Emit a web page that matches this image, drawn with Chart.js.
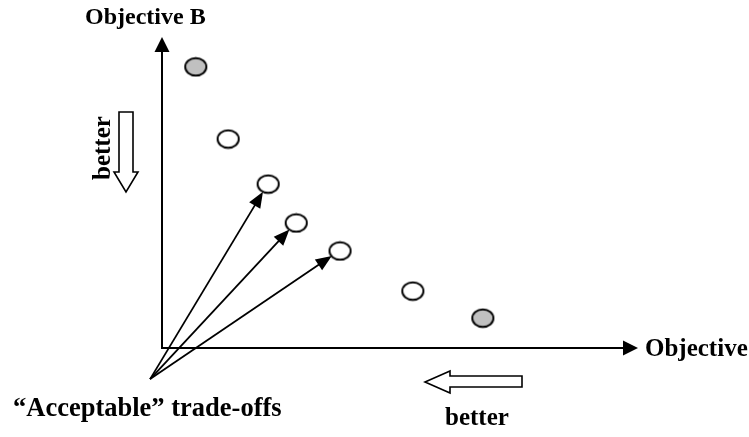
<!DOCTYPE html>
<html>
<head>
<meta charset="utf-8">
<script src="https://cdn.jsdelivr.net/npm/chart.js@4"></script>
<style>
  body { margin: 0; background: #fff; }
  canvas { display: block; }
</style>
</head>
<body>
<canvas id="tradeoff-chart" width="749" height="437"></canvas>
<script>
// solutions, in objective units (origin = axis corner)
let objA = [0.71, 1.39, 2.23, 2.82, 3.74, 5.27, 6.74];
let objB = [9.04, 6.72, 5.27, 4.02, 3.12, 1.83, 0.96];
let extremes = [0, 6];        // drawn grey
let acceptable = [2, 3, 4];   // the ones the arrows point at
let arrowFrom = [-0.25, -1.0];

let xLabel = 'Objective';
let yLabel = 'Objective B';
let noteLabel = '\u201cAcceptable\u201d trade-offs';
let betterLabel = 'better';

function ellipseStyle(fill) {
  let c = document.createElement('canvas');
  c.width = 25; c.height = 21;
  let g = c.getContext('2d');
  g.beginPath();
  g.ellipse(12.5, 10.5, 10.6, 8.8, 0, 0, Math.PI * 2);
  g.fillStyle = fill;
  g.fill();
  g.lineWidth = 1.9;
  g.strokeStyle = '#000';
  g.stroke();
  return c;
}

function pts(idx) {
  return idx.map(i => ({ x: objA[i], y: objB[i] }));
}
let allIdx = objA.map((v, i) => i);
let greyIdx = allIdx.filter(i => extremes.includes(i));
let whiteIdx = allIdx.filter(i => !extremes.includes(i));

function head(ctx, x1, y1, x2, y2, len, half) {
  let a = Math.atan2(y2 - y1, x2 - x1);
  ctx.beginPath();
  ctx.moveTo(x2, y2);
  ctx.lineTo(x2 - len * Math.cos(a) + half * Math.sin(a), y2 - len * Math.sin(a) - half * Math.cos(a));
  ctx.lineTo(x2 - len * Math.cos(a) - half * Math.sin(a), y2 - len * Math.sin(a) + half * Math.cos(a));
  ctx.closePath();
  ctx.fill();
}

const diagram = {
  id: 'diagram',
  beforeDatasetsDraw(chart) {
    let ctx = chart.ctx, xs = chart.scales.x, ys = chart.scales.y;
    let x0 = xs.getPixelForValue(0), y0 = ys.getPixelForValue(0);
    let xEnd = xs.getPixelForValue(10), yEnd = ys.getPixelForValue(10);
    ctx.save();
    ctx.strokeStyle = '#000';
    ctx.fillStyle = '#000';
    ctx.lineWidth = 2;
    ctx.beginPath();
    ctx.moveTo(x0, yEnd + 10);
    ctx.lineTo(x0, y0);
    ctx.lineTo(xEnd - 10, y0);
    ctx.stroke();
    head(ctx, x0, y0, x0, yEnd, 15, 7.5);
    head(ctx, x0, y0, xEnd, y0, 15, 7.5);
    ctx.restore();
  },
  afterDraw(chart) {
    let ctx = chart.ctx, xs = chart.scales.x, ys = chart.scales.y;
    let ox = xs.getPixelForValue(arrowFrom[0]), oy = ys.getPixelForValue(arrowFrom[1]);
    ctx.save();
    ctx.strokeStyle = '#000';
    ctx.fillStyle = '#000';
    ctx.lineWidth = 1.8;
    acceptable.forEach(i => {
      let px = xs.getPixelForValue(objA[i]), py = ys.getPixelForValue(objB[i]);
      let d = Math.hypot(px - ox, py - oy);
      let tx = px - (px - ox) / d * 10, ty = py - (py - oy) / d * 9;
      let a = Math.atan2(ty - oy, tx - ox);
      ctx.beginPath();
      ctx.moveTo(ox, oy);
      ctx.lineTo(tx - 10 * Math.cos(a), ty - 10 * Math.sin(a));
      ctx.stroke();
      head(ctx, ox, oy, tx, ty, 16, 6.5);
    });

    // hollow "better" arrows
    ctx.fillStyle = '#fff';
    ctx.lineWidth = 1.6;
    ctx.beginPath();
    ctx.moveTo(119, 112); ctx.lineTo(133, 112); ctx.lineTo(133, 172);
    ctx.lineTo(138, 172); ctx.lineTo(126, 192); ctx.lineTo(114, 172);
    ctx.lineTo(119, 172); ctx.closePath();
    ctx.fill(); ctx.stroke();
    ctx.beginPath();
    ctx.moveTo(522, 376); ctx.lineTo(522, 387); ctx.lineTo(450, 387);
    ctx.lineTo(450, 393); ctx.lineTo(425, 382); ctx.lineTo(450, 371);
    ctx.lineTo(450, 376); ctx.closePath();
    ctx.fill(); ctx.stroke();

    ctx.fillStyle = '#000';
    let serif = '"Liberation Serif", "Times New Roman", serif';
    ctx.textBaseline = 'alphabetic';
    ctx.textAlign = 'left';
    ctx.font = 'bold 24px ' + serif;
    ctx.fillText(yLabel, 85, 24);
    ctx.font = 'bold 25px ' + serif;
    ctx.fillText(xLabel, 645, 356);
    ctx.fillText(betterLabel, 445, 425);
    ctx.font = 'bold 26.5px ' + serif;
    ctx.fillText(noteLabel, 13, 416);
    ctx.font = 'bold 25px ' + serif;
    ctx.translate(110, 180);
    ctx.rotate(-Math.PI / 2);
    ctx.fillText(betterLabel, 0, 0);
    ctx.restore();
  }
};

new Chart(document.getElementById('tradeoff-chart').getContext('2d'), {
  type: 'scatter',
  data: {
    datasets: [
      {
        label: 'extremes',
        data: pts(greyIdx),
        pointStyle: ellipseStyle('#c0c0c0'),
        pointRadius: 11
      },
      {
        label: 'solutions',
        data: pts(whiteIdx),
        pointStyle: ellipseStyle('#fff'),
        pointRadius: 11
      }
    ]
  },
  options: {
    responsive: false,
    animation: false,
    layout: { padding: { left: 162, right: 111, top: 37, bottom: 89 } },
    plugins: { legend: { display: false }, tooltip: { enabled: false } },
    scales: {
      x: { type: 'linear', display: false, min: 0, max: 10 },
      y: { type: 'linear', display: false, min: 0, max: 10 }
    }
  },
  plugins: [diagram]
});
</script>
</body>
</html>
